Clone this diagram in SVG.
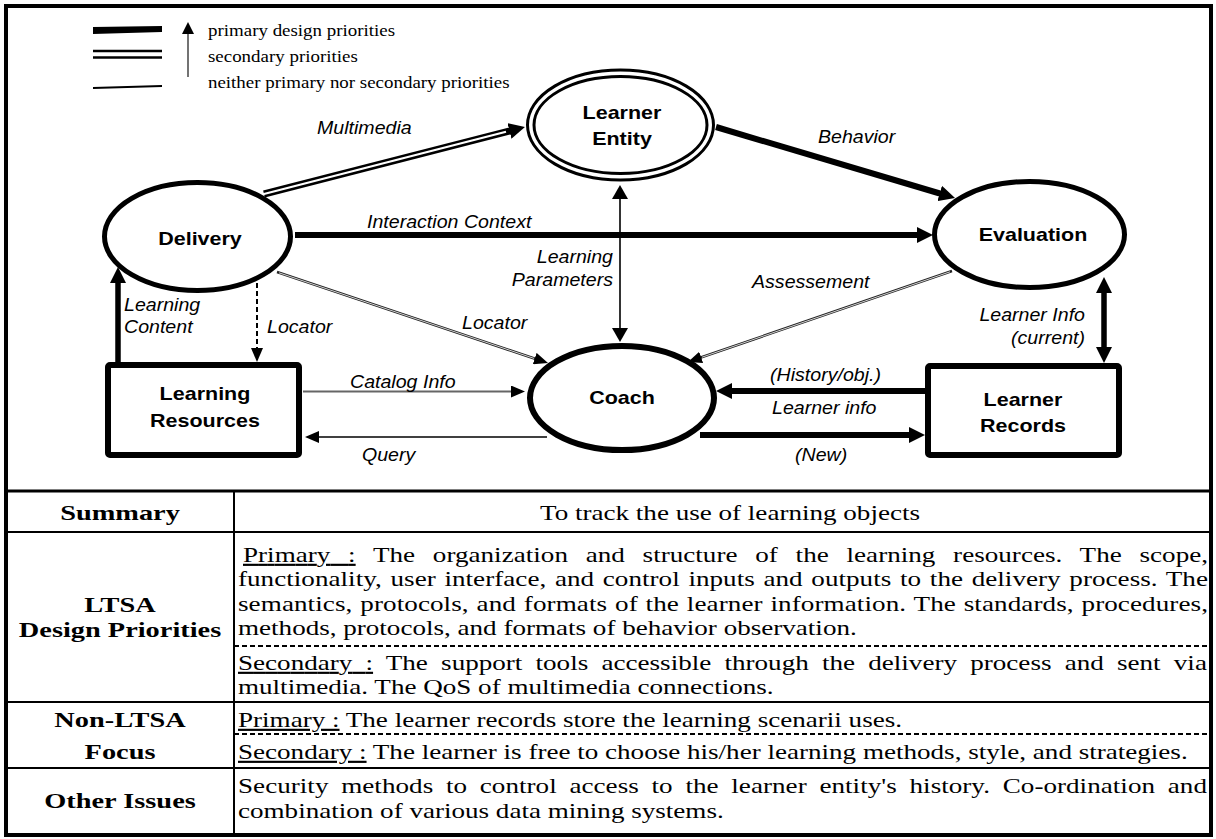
<svg xmlns="http://www.w3.org/2000/svg" width="1216" height="839" viewBox="0 0 1216 839">
<style>
.lbl{font-family:"Liberation Sans",Arial,sans-serif;font-style:italic;font-size:17.5px;fill:#000}
.nd{font-family:"Liberation Sans",Arial,sans-serif;font-weight:bold;font-size:19.2px;fill:#000;text-anchor:middle}
.lg{font-family:"Liberation Serif","Times New Roman",serif;font-size:16.9px;fill:#000}
.tb{font-family:"Liberation Serif","Times New Roman",serif;font-size:21.5px;fill:#000}
.tbb{font-family:"Liberation Serif","Times New Roman",serif;font-size:21.5px;font-weight:bold;fill:#000;text-anchor:middle}
.end{text-anchor:end}
.shape{fill:#fff;stroke:#000}
.thick{stroke:#000;stroke-width:6;fill:none}
.thin{stroke:#000;stroke-width:1.6;fill:none}
.rule{stroke:#000;stroke-width:2;fill:none}
.dash{stroke:#000;stroke-width:2;stroke-dasharray:5 3;fill:none}
</style>
<defs>
<marker id="ah" markerUnits="userSpaceOnUse" viewBox="0 0 16 16" markerWidth="16" markerHeight="16" refX="2" refY="8" orient="auto-start-reverse"><path d="M0,0 L16,8 L0,16 z" fill="#000"/></marker>
<marker id="am" markerUnits="userSpaceOnUse" viewBox="0 0 14 16" markerWidth="14" markerHeight="16" refX="2" refY="8" orient="auto-start-reverse"><path d="M0,0 L14,8 L0,16 z" fill="#000"/></marker>
<marker id="as" markerUnits="userSpaceOnUse" viewBox="0 0 14 12" markerWidth="14" markerHeight="12" refX="2" refY="6" orient="auto-start-reverse"><path d="M0,0 L14,6 L0,12 z" fill="#000"/></marker>
</defs>
<rect x="0" y="0" width="1216" height="839" fill="#fff"/>
<rect x="6" y="6" width="1205" height="829" fill="none" stroke="#000" stroke-width="4"/>

<g id="legend">
<polygon points="93,27 162,26 162,32 93,34" fill="#000"/>
<line x1="93" y1="51" x2="162" y2="51" stroke="#000" stroke-width="2.5"/>
<line x1="93" y1="57.5" x2="162" y2="57.5" stroke="#000" stroke-width="2.5"/>
<line x1="93" y1="88" x2="162" y2="86" stroke="#000" stroke-width="2"/>
<line x1="188" y1="77" x2="188" y2="33" stroke="#444" stroke-width="1.5"/>
<polygon points="188,22 194,34 182,34" fill="#000"/>
<text class="lg" transform="translate(208,36) scale(1.12,1)">primary design priorities</text>
<text class="lg" transform="translate(208,62) scale(1.12,1)">secondary priorities</text>
<text class="lg" transform="translate(208,88) scale(1.12,1)">neither primary nor secondary priorities</text>
</g>

<g id="connectors">
<path d="M264,194 L511.4,130.5" stroke="#000" stroke-width="7" fill="none" marker-end="url(#ah)"/>
<path d="M262,194.5 L506,131.8" stroke="#fff" stroke-width="2.2" fill="none"/>
<path d="M716,127 L941.6,194" class="thick" marker-end="url(#ah)"/>
<path d="M295,235 L919,235" class="thick" marker-end="url(#ah)"/>
<path d="M620,197 L620,330" class="thin" marker-start="url(#am)" marker-end="url(#am)"/>
<path d="M277,272 L536.6,359.2" stroke="#222" stroke-width="2.6" fill="none" marker-end="url(#as)"/>
<path d="M279,272.8 L534,358.4" stroke="#fff" stroke-width="0.8" fill="none"/>
<path d="M952,271 L699.3,358.1" stroke="#222" stroke-width="2.6" fill="none" marker-end="url(#as)"/>
<path d="M950,271.8 L702,357.2" stroke="#fff" stroke-width="0.8" fill="none"/>
<path d="M118,362 L118,281" stroke="#000" stroke-width="5.5" fill="none" marker-end="url(#ah)"/>
<path d="M257,283 L257,350" class="dash" marker-end="url(#as)"/>
<path d="M303,391.5 L513,391.5" stroke="#666" stroke-width="2.2" fill="none" marker-end="url(#as)"/>
<path d="M547,437 L317,437" class="thin" marker-end="url(#as)"/>
<path d="M925,391 L730,391" class="thick" marker-end="url(#ah)"/>
<path d="M700,435 L911,435" class="thick" marker-end="url(#ah)"/>
<path d="M1104,291 L1104,349" stroke="#000" stroke-width="5.5" fill="none" marker-start="url(#ah)" marker-end="url(#ah)"/>
<text class="lbl" transform="translate(317,134) scale(1.12,1)">Multimedia</text>
<text class="lbl" transform="translate(818,143) scale(1.12,1)">Behavior</text>
<text class="lbl" transform="translate(367,228) scale(1.12,1)">Interaction Context</text>
<text class="lbl end" transform="translate(613,263) scale(1.12,1)">Learning</text>
<text class="lbl end" transform="translate(613,286) scale(1.12,1)">Parameters</text>
<text class="lbl" transform="translate(752,288) scale(1.12,1)">Assessement</text>
<text class="lbl end" transform="translate(1085,321) scale(1.12,1)">Learner Info</text>
<text class="lbl end" transform="translate(1085,344) scale(1.12,1)">(current)</text>
<text class="lbl" transform="translate(124,311) scale(1.12,1)">Learning</text>
<text class="lbl" transform="translate(124,333) scale(1.12,1)">Content</text>
<text class="lbl" transform="translate(267,333) scale(1.12,1)">Locator</text>
<text class="lbl" transform="translate(462,329) scale(1.12,1)">Locator</text>
<text class="lbl" transform="translate(350,388) scale(1.12,1)">Catalog Info</text>
<text class="lbl" transform="translate(362,461) scale(1.12,1)">Query</text>
<text class="lbl" transform="translate(770,381) scale(1.12,1)">(History/obj.)</text>
<text class="lbl" transform="translate(772,414) scale(1.12,1)">Learner info</text>
<text class="lbl" transform="translate(795,461) scale(1.12,1)">(New)</text>
</g>

<g id="delivery">
<ellipse cx="197.5" cy="236.5" rx="93" ry="54" class="shape" stroke-width="5"/>
<text class="nd" transform="translate(200,245) scale(1.12,1)">Delivery</text>
</g>
<g id="learner-entity">
<ellipse cx="620.5" cy="125" rx="93" ry="55" class="shape" stroke-width="3"/>
<ellipse cx="620.5" cy="125" rx="86.5" ry="48.5" class="shape" stroke-width="3"/>
<text class="nd" transform="translate(622,119) scale(1.12,1)">Learner</text>
<text class="nd" transform="translate(622,145) scale(1.12,1)">Entity</text>
</g>
<g id="evaluation">
<ellipse cx="1029.5" cy="234.5" rx="95" ry="53" class="shape" stroke-width="5"/>
<text class="nd" transform="translate(1033,241) scale(1.12,1)">Evaluation</text>
</g>
<g id="coach">
<ellipse cx="622" cy="398" rx="92" ry="52" class="shape" stroke-width="6"/>
<text class="nd" transform="translate(622,404) scale(1.12,1)">Coach</text>
</g>
<g id="learning-resources">
<rect x="108" y="365" width="191" height="90" rx="2" class="shape" stroke-width="6"/>
<text class="nd" transform="translate(205,400) scale(1.12,1)">Learning</text>
<text class="nd" transform="translate(205,427) scale(1.12,1)">Resources</text>
</g>
<g id="learner-records">
<rect x="928" y="366" width="191" height="89" rx="2" class="shape" stroke-width="6"/>
<text class="nd" transform="translate(1023,406) scale(1.12,1)">Learner</text>
<text class="nd" transform="translate(1023,432) scale(1.12,1)">Records</text>
</g>

<g id="table">
<line x1="6" y1="491" x2="1211" y2="491" stroke="#000" stroke-width="3"/>
<line x1="6" y1="532" x2="1211" y2="532" class="rule"/>
<line x1="234" y1="491" x2="234" y2="835" class="rule"/>
<line x1="234" y1="646" x2="1211" y2="646" class="dash"/>
<line x1="6" y1="702" x2="1211" y2="702" class="rule"/>
<line x1="234" y1="734" x2="1211" y2="734" class="dash"/>
<line x1="6" y1="768" x2="1211" y2="768" class="rule"/>

<text class="tbb" transform="translate(120,520) scale(1.32,1)">Summary</text>
<text class="tbb" transform="translate(120,612) scale(1.32,1)">LTSA</text>
<text class="tbb" transform="translate(120,637) scale(1.32,1)">Design Priorities</text>
<text class="tbb" transform="translate(120,727) scale(1.32,1)">Non-LTSA</text>
<text class="tbb" transform="translate(120,759) scale(1.32,1)">Focus</text>
<text class="tbb" transform="translate(120,808) scale(1.32,1)">Other Issues</text>

<text class="tb" style="text-anchor:middle" transform="translate(730,520) scale(1.26,1)">To track the use of learning objects</text>

<text class="tb" transform="translate(243,562) scale(1.26,1)" style="word-spacing:8.7px" textLength="765.9" lengthAdjust="spacing"><tspan text-decoration="underline">Primary :</tspan> The organization and structure of the learning resources. The scope,</text>
<text class="tb" transform="translate(238,586) scale(1.26,1)" style="word-spacing:1.5px" textLength="769.8" lengthAdjust="spacing">functionality, user interface, and control inputs and outputs to the delivery process. The</text>
<text class="tb" transform="translate(238,611) scale(1.26,1)" style="word-spacing:0.8px" textLength="769.8" lengthAdjust="spacing">semantics, protocols, and formats of the learner information. The standards, procedures,</text>
<text class="tb" transform="translate(238,635) scale(1.26,1)">methods, protocols, and formats of behavior observation.</text>
<text class="tb" transform="translate(238,670) scale(1.26,1)" style="word-spacing:5.1px" textLength="769" lengthAdjust="spacing"><tspan text-decoration="underline">Secondary :</tspan> The support tools accessible through the delivery process and sent via</text>
<text class="tb" transform="translate(238,694) scale(1.26,1)">multimedia. The QoS of multimedia connections.</text>
<text class="tb" transform="translate(238,727) scale(1.26,1)"><tspan text-decoration="underline">Primary :</tspan> The learner records store the learning scenarii uses.</text>
<text class="tb" transform="translate(238,759) scale(1.26,1)"><tspan text-decoration="underline">Secondary :</tspan> The learner is free to choose his/her learning methods, style, and strategies.</text>
<text class="tb" transform="translate(238,793) scale(1.26,1)" style="word-spacing:4.7px" textLength="769" lengthAdjust="spacing">Security methods to control access to the learner entity's history. Co-ordination and</text>
<text class="tb" transform="translate(238,818) scale(1.26,1)">combination of various data mining systems.</text>
</g>
</svg>
